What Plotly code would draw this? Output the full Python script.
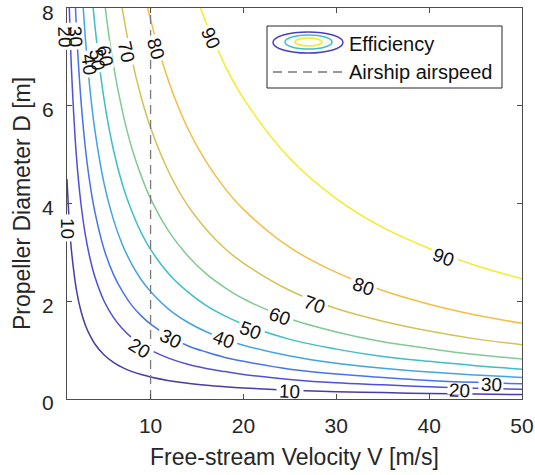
import plotly.graph_objects as go

# ---------------- data ----------------
levels = [10, 20, 30, 40, 50, 60, 70, 80, 90]
level_colors = ['#4a3ba6', '#5050d6', '#4673ee', '#42a3e6', '#3cbfc6',
                '#80cb92', '#d3c254', '#f5bd44', '#f3ec2a']

# common velocity sample positions [m/s]
V_samples = [1, 1.25, 1.5, 2, 2.5, 3, 3.5, 4, 5, 6, 7, 8, 9, 10,
             12, 14, 16, 18, 20, 25, 30, 35, 40, 45, 50]
N = None
# propeller diameter [m] of each efficiency contour at the sample velocities
D_eff10 = [4.5, 3.6, 3.0, 2.25, 1.8, 1.5, 1.29, 1.125, 0.9, 0.75, 0.64, 0.56, 0.5, 0.45,
           0.375, 0.32, 0.28, 0.25, 0.225, 0.18, 0.15, 0.13, 0.11, 0.10, 0.09]
D_eff20 = [10, 8, 6.67, 5, 4, 3.33, 2.86, 2.5, 2, 1.67, 1.43, 1.25, 1.11, 1.0,
           0.83, 0.71, 0.625, 0.56, 0.5, 0.4, 0.33, 0.29, 0.25, 0.22, 0.2]
D_eff30 = [N, N, 10.2, 7.65, 6.12, 5.1, 4.37, 3.83, 3.06, 2.55, 2.19, 1.91, 1.7, 1.53,
           1.28, 1.09, 0.96, 0.85, 0.77, 0.61, 0.51, 0.44, 0.38, 0.34, 0.31]
D_eff40 = [N, N, N, 11, 8.8, 7.33, 6.29, 5.5, 4.4, 3.67, 3.14, 2.75, 2.44, 2.2,
           1.83, 1.57, 1.375, 1.22, 1.1, 0.88, 0.73, 0.63, 0.55, 0.49, 0.44]
D_eff50 = [N, N, N, N, 12.2, 10.2, 8.74, 7.65, 6.12, 5.1, 4.37, 3.83, 3.4, 3.06,
           2.55, 2.19, 1.91, 1.7, 1.53, 1.22, 1.02, 0.87, 0.77, 0.68, 0.61]
D_eff60 = [N, N, N, N, N, N, N, 10.25, 8.2, 6.83, 5.86, 5.12, 4.56, 4.1,
           3.42, 2.93, 2.56, 2.28, 2.05, 1.64, 1.37, 1.17, 1.03, 0.91, 0.82]
D_eff70 = [N, N, N, N, N, N, N, N, 11.1, 9.25, 7.93, 6.94, 6.17, 5.55,
           4.63, 3.96, 3.47, 3.08, 2.78, 2.22, 1.85, 1.59, 1.39, 1.23, 1.11]
D_eff80 = [N, N, N, N, N, N, N, N, N, N, 11.1, 9.7, 8.62, 7.76,
           6.47, 5.54, 4.85, 4.31, 3.88, 3.1, 2.59, 2.22, 1.94, 1.72, 1.55]
D_eff90 = [N, N, N, N, N, N, N, N, N, N, N, N, N, 12.3,
           10.25, 8.79, 7.69, 6.83, 6.15, 4.92, 4.1, 3.51, 3.08, 2.73, 2.46]
D_curves = [D_eff10, D_eff20, D_eff30, D_eff40, D_eff50, D_eff60, D_eff70, D_eff80, D_eff90]

airship_airspeed = 10  # m/s
V_range = [1, 50]
D_range = [0, 8]
V_ticks = [10, 20, 30, 40, 50]
D_ticks = [0, 2, 4, 6, 8]

# contour labels: (text, V, D, angle, x-shift px, gap box width, gap box height)
contour_labels = [
    ('10', 1.0, 3.5, 90, 0, 26, 14),
    ('20', 1.0, 7.42, 88, -2, 26, 13),
    ('30', 1.9, 7.42, 86, 0, 26, 13),
    ('40', 3.4, 6.85, 82, 0, 26, 13),
    ('50', 4.25, 6.95, 82, 0, 26, 13),
    ('60', 5.1, 7.03, 80, 0, 26, 13),
    ('70', 7.45, 7.10, 78, 0, 26, 14),
    ('80', 10.6, 7.18, 74, 0, 26, 14),
    ('90', 16.5, 7.38, 66, 0, 26, 14),
    ('20', 8.85, 1.04, 32, 0, 26, 14),
    ('30', 12.1, 1.23, 27, 0, 26, 14),
    ('40', 17.9, 1.21, 20, 0, 26, 14),
    ('50', 20.8, 1.41, 20, 0, 26, 14),
    ('60', 23.9, 1.68, 20, 0, 26, 14),
    ('70', 27.65, 1.94, 20, 0, 26, 14),
    ('80', 32.9, 2.31, 20, 0, 26, 14),
    ('90', 41.6, 2.90, 20, 0, 26, 14),
    ('10', 25.0, 0.16, 2, 0, 26, 11),
    ('20', 43.3, 0.18, 2, 0, 24, 8),
    ('30', 46.7, 0.29, 2, 0, 24, 8),
]

FONT = 'Liberation Sans, Arial, Helvetica, sans-serif'
TXT = '#262626'

fig = go.Figure()

for lev, col, Dv in zip(levels, level_colors, D_curves):
    fig.add_trace(go.Scatter(
        x=V_samples, y=Dv, mode='lines', line=dict(color=col, width=1.5, shape='spline', smoothing=1.0),
        name=f'Efficiency {lev}', showlegend=False, hoverinfo='skip'))

fig.add_trace(go.Scatter(
    x=[airship_airspeed, airship_airspeed], y=D_range, mode='lines',
    line=dict(color='#7a7a7a', width=1.3, dash='9px,6px'),
    name='Airship airspeed', showlegend=False, hoverinfo='skip'))

annotations = []
# pass 1: white boxes that cut gaps in the lines
for txt, v, d, ang, xs, w, h in contour_labels:
    annotations.append(dict(x=v, y=d, xref='x', yref='y', text=txt, showarrow=False, xshift=xs,
                            textangle=ang, bgcolor='white', width=w, height=h, borderpad=0,
                            font=dict(family=FONT, size=19, color='rgba(0,0,0,0)')))
# pass 2: the label text
for txt, v, d, ang, xs, w, h in contour_labels:
    annotations.append(dict(x=v, y=d, xref='x', yref='y', text=txt, showarrow=False, xshift=xs,
                            textangle=ang, font=dict(family=FONT, size=19, color='#111111')))

# ---- custom legend (paper coordinates) ----
L, R, T, B = 67, 522, 8, 399
def px(xp):
    return (xp - L) / (R - L)
def py(yp):
    return (B - yp) / (B - T)

shapes = [
    dict(type='rect', xref='paper', yref='paper', x0=px(267), x1=px(502), y0=py(88), y1=py(26),
         line=dict(color='#262626', width=1), fillcolor='white', layer='above'),
    dict(type='circle', xref='paper', yref='paper', x0=px(273), x1=px(343), y0=py(53), y1=py(32),
         line=dict(color='#4b3fc0', width=1.5), layer='above'),
    dict(type='circle', xref='paper', yref='paper', x0=px(285), x1=px(332), y0=py(49), y1=py(35),
         line=dict(color='#3cc0c8', width=1.5), layer='above'),
    dict(type='circle', xref='paper', yref='paper', x0=px(295), x1=px(322), y0=py(46), y1=py(38),
         line=dict(color='#f0ec20', width=1.5), layer='above'),
    dict(type='line', xref='paper', yref='paper', x0=px(273), x1=px(343), y0=py(72), y1=py(72),
         line=dict(color='#7a7a7a', width=1.3, dash='9px,6px'), layer='above'),
]
annotations.append(dict(x=px(347), y=py(44), xref='paper', yref='paper', text='Efficiency',
                        showarrow=False, xanchor='left', yanchor='middle',
                        font=dict(family=FONT, size=20, color='#111111')))
annotations.append(dict(x=px(347), y=py(72), xref='paper', yref='paper', text='Airship airspeed',
                        showarrow=False, xanchor='left', yanchor='middle',
                        font=dict(family=FONT, size=20, color='#111111')))
# axis titles
annotations.append(dict(x=px(294), y=py(457), xref='paper', yref='paper',
                        text='Free-stream Velocity V [m/s]', showarrow=False,
                        xanchor='center', yanchor='middle',
                        font=dict(family=FONT, size=23, color=TXT)))
annotations.append(dict(x=px(22), y=py(204), xref='paper', yref='paper',
                        text='Propeller Diameter D [m]', showarrow=False, textangle=-90,
                        xanchor='center', yanchor='middle',
                        font=dict(family=FONT, size=23, color=TXT)))
# y tick labels (set slightly below their ticks, as in the reference)
for t in D_ticks:
    annotations.append(dict(x=px(56), y=t, xref='paper', yref='y', text=str(t), showarrow=False,
                            xanchor='right', yanchor='middle', yshift=-4,
                            font=dict(family=FONT, size=21, color=TXT)))

axis_common = dict(showgrid=False, zeroline=False, showline=True, linecolor='#4d4d4d', linewidth=1,
                   mirror='ticks', ticks='inside', ticklen=5, tickcolor='#4d4d4d',
                   tickfont=dict(family=FONT, size=21, color=TXT))

fig.update_layout(
    width=535, height=475,
    margin=dict(l=L, r=535 - R, t=T, b=475 - B, autoexpand=False),
    plot_bgcolor='white', paper_bgcolor='white',
    showlegend=False,
    xaxis=dict(range=[V_range[0], V_range[1] + 0.001], tickvals=V_ticks, ticklabelstandoff=8,
               automargin=False, **axis_common),
    yaxis=dict(range=[D_range[0] - 0.0005, D_range[1] + 0.0005], tickvals=D_ticks,
               showticklabels=False, automargin=False, **axis_common),
    shapes=shapes,
    annotations=annotations,
)

fig.write_html('out.html')
